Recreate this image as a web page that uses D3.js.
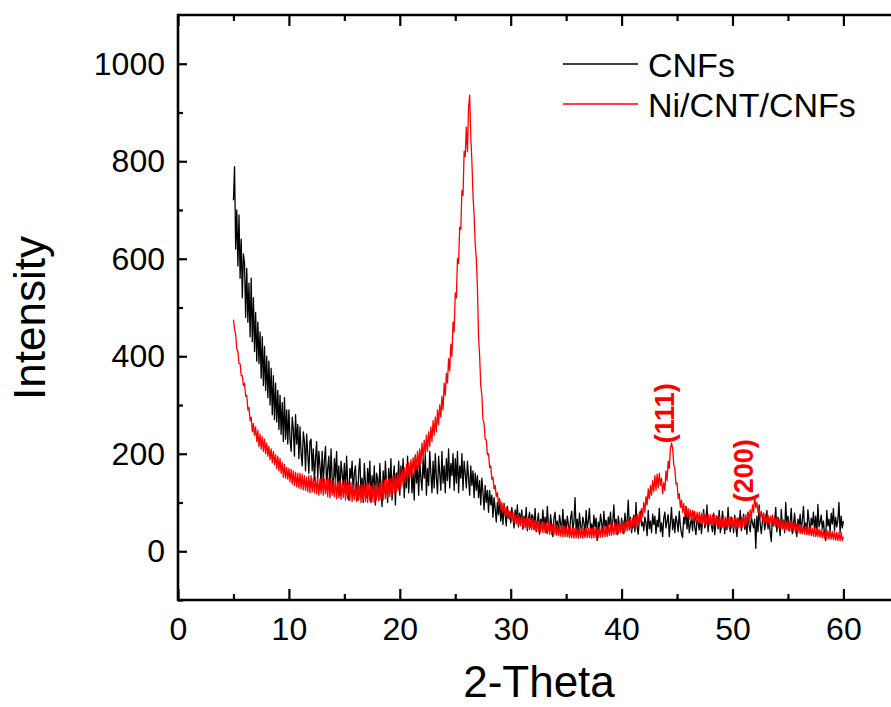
<!DOCTYPE html>
<html><head><meta charset="utf-8">
<script src="https://cdn.jsdelivr.net/npm/d3@7/dist/d3.min.js"></script>
<style>
body{margin:0;background:#fff}
svg{display:block}
text{font-family:"Liberation Sans",Arial,sans-serif}
</style>
</head><body>
<svg id="chart" width="891" height="707"></svg>
<script>
// 2-Theta sampling of the scan (degrees)
const thetaStart = 5, thetaStep = 0.1;

// CNFs intensity, 5.0 .. 60.0 deg in 0.1 deg steps
const cnfs = [
720,789,620,700,585,690,560,640,520,610,
590,480,580,470,550,440,560,430,520,410,
490,390,470,385,450,355,440,340,420,330,
400,315,390,300,375,280,360,270,345,265,
330,250,320,240,305,225,315,230,290,220,
290,230,205,275,250,195,280,220,260,190,
255,200,175,245,225,165,240,200,160,225,
230,165,210,145,190,225,150,205,175,140,
205,140,185,215,130,170,195,125,210,150,
120,190,150,205,130,175,115,185,160,135,
180,120,195,140,105,170,150,185,115,160,
175,130,105,165,190,120,150,100,180,140,
110,170,135,185,100,155,125,175,95,160,
150,105,180,130,92,165,120,185,140,100,
170,120,190,105,150,175,95,160,130,185,
115,175,145,190,110,160,130,195,120,170,
180,120,160,105,195,140,175,115,185,150,
125,190,150,200,115,170,135,205,160,120,
185,130,200,150,118,195,160,125,205,140,
175,120,190,145,210,130,180,155,200,125,
190,140,205,120,175,150,200,125,185,160,
130,185,150,115,175,135,165,110,160,125,
155,110,145,95,150,120,85,135,100,125,
80,125,95,115,70,110,88,60,100,75,
105,62,88,55,98,75,52,92,68,80,
58,90,70,48,85,62,95,50,78,60,
85,45,72,58,90,42,68,80,50,75,
72,45,88,40,60,78,35,66,52,85,
48,70,38,92,55,42,75,50,30,68,
80,45,62,35,74,58,40,86,48,65,
38,72,55,30,68,82,44,60,110,42,
66,35,78,52,40,70,58,32,84,48,
62,88,42,56,36,74,50,68,22,60,
45,76,58,38,82,50,64,35,70,55,
80,42,60,95,48,66,34,72,52,40,
68,50,36,78,55,62,105,44,70,38,
56,74,40,100,48,35,66,82,52,60,
42,70,58,32,84,46,62,38,76,55,
72,36,64,50,88,40,58,30,68,80,
48,62,75,30,58,90,44,66,38,72,
60,40,82,52,36,28,70,56,92,46,
75,38,55,68,42,80,50,34,64,58,
44,70,36,62,86,48,58,95,40,66,
68,52,40,78,34,60,72,46,84,38,
50,82,58,36,66,44,90,55,40,70,
62,38,74,50,30,68,56,84,42,60,
76,45,60,35,80,52,40,70,58,48,
66,6,72,40,95,55,36,62,78,44,
58,84,46,66,38,20,74,52,62,90,
40,70,55,32,86,48,64,38,100,56,
72,42,60,88,36,54,78,46,30,66,
50,76,40,64,92,44,58,36,85,62,
38,68,54,80,42,72,34,96,50,60,
74,46,62,36,22,84,52,66,40,78,
56,88,42,70,50,64,100,38,72,48,
62
];

// Ni/CNT/CNFs intensity, same sampling
const niCntCnfs = [
475,455,445,415,410,385,385,360,360,340,
345,318,320,290,295,268,275,245,262,238,
255,225,248,215,240,210,235,205,230,200,
222,195,215,188,210,182,205,178,198,170,
195,165,190,160,182,152,178,150,172,148,
170,142,168,138,165,135,162,132,160,130,
160,128,158,126,155,125,152,122,155,120,
155,122,150,120,152,118,150,115,148,118,
150,115,148,118,145,112,150,110,145,115,
145,112,148,108,142,110,145,106,140,110,
142,105,140,108,138,104,142,102,136,106,
138,102,140,105,135,100,138,104,136,102,
136,100,138,104,135,102,140,100,136,105,
138,104,140,106,142,105,145,108,148,110,
148,112,150,115,155,118,158,122,162,125,
165,130,168,135,172,140,178,145,182,150,
188,155,192,162,198,168,205,172,210,180,
222,190,228,198,238,205,245,215,255,225,
268,238,275,245,290,260,300,275,318,290,
345,320,365,345,395,370,425,400,470,450,
530,520,600,590,665,660,740,730,820,810,
870,820,910,936,850,800,730,690,630,600,
540,440,400,340,320,270,262,230,228,198,
200,172,175,148,152,128,135,112,120,98,
108,88,100,80,94,74,90,70,85,66,
82,62,80,58,76,56,75,54,72,52,
72,50,70,48,68,46,68,45,66,44,
66,44,64,42,62,40,62,40,60,38,
60,38,58,36,58,35,56,34,55,34,
55,33,54,32,52,31,52,30,52,30,
50,30,50,28,50,28,48,27,48,28,
48,27,48,28,48,27,47,28,48,28,
48,28,47,27,48,28,48,28,49,28,
49,29,50,29,52,30,52,30,54,32,
54,33,56,34,58,35,58,36,60,38,
60,38,62,40,62,42,65,44,66,45,
68,48,72,52,76,56,80,62,88,70,
100,80,112,95,128,108,135,115,145,122,
155,125,158,130,160,135,150,118,140,125,
165,145,185,170,210,222,212,178,170,138,
140,108,118,90,105,80,98,74,92,70,
88,66,85,64,84,62,82,60,80,60,
80,58,78,56,78,55,76,55,76,54,
75,54,74,52,74,52,72,51,72,50,
72,50,72,50,70,49,70,48,70,48,
68,48,68,47,68,48,67,48,70,50,
72,52,75,55,80,60,85,68,95,80,
112,90,100,80,88,70,82,64,78,60,
76,56,74,55,72,54,72,52,70,50,
68,48,66,47,65,46,64,45,62,44,
62,42,60,41,58,40,58,38,56,38,
56,36,54,36,52,35,52,34,50,33,
50,32,48,31,48,30,46,30,46,29,
45,28,44,27,44,26,42,25,42,25,
40,24,40,23,39,22,38,22,38,22,
30
];

const seriesNames = ["CNFs", "Ni/CNT/CNFs"];
const seriesColors = ["#000000", "#ff0000"];
const xTicks = [0, 10, 20, 30, 40, 50, 60];
const xMinorTicks = [5, 15, 25, 35, 45, 55];
const yTicks = [0, 200, 400, 600, 800, 1000];
const yMinorTicks = [-100, 100, 300, 500, 700, 900];
const peakLabels = ["(111)", "(200)"];
const peakLabelTheta = [43.95, 51.0];
const peakLabelIntensity = [283, 165];

(function () {
const svg = d3.select("#chart");
const W = 891, H = 707;
const pL = 178, pT = 15, pB = 600;
const x = d3.scaleLinear().domain([0, 65]).range([pL, pL + 65 * 11.09]);
const y = d3.scaleLinear().domain([-100, 1100]).range([pB, pT]);
const pR = x(65);

svg.append("rect").attr("width", W).attr("height", H).attr("fill", "#fff");

svg.append("defs").append("clipPath").attr("id", "plot")
  .append("rect").attr("x", pL).attr("y", pT).attr("width", pR - pL).attr("height", pB - pT);

const toPoints = arr => arr.map((v, i) => [thetaStart + i * thetaStep, v]);
const line = d3.line().x(d => x(d[0])).y(d => y(d[1]));

const dataG = svg.append("g").attr("clip-path", "url(#plot)");
[cnfs, niCntCnfs].forEach((s, k) => {
  dataG.append("path").datum(toPoints(s))
    .attr("fill", "none").attr("stroke", seriesColors[k])
    .attr("stroke-width", 1.3).attr("stroke-linejoin", "round")
    .attr("d", line);
});

const fmt = d3.format("d");
svg.append("g").attr("transform", `translate(0,${pB})`)
  .call(d3.axisBottom(x).tickValues(xTicks).tickSize(-11).tickPadding(17).tickFormat(fmt));
svg.append("g").attr("transform", `translate(0,${pB})`)
  .call(d3.axisBottom(x).tickValues(xMinorTicks).tickSize(-6).tickFormat(""));
svg.append("g").attr("transform", `translate(0,${pT})`)
  .call(d3.axisTop(x).tickValues(xTicks).tickSize(-11).tickFormat(""));
svg.append("g").attr("transform", `translate(0,${pT})`)
  .call(d3.axisTop(x).tickValues(xMinorTicks).tickSize(-6).tickFormat(""));
svg.append("g").attr("transform", `translate(${pL},0)`)
  .call(d3.axisLeft(y).tickValues(yTicks).tickSize(-9).tickPadding(13).tickFormat(fmt));
svg.append("g").attr("transform", `translate(${pL},0)`)
  .call(d3.axisLeft(y).tickValues(yMinorTicks).tickSize(-5).tickFormat(""));

svg.selectAll(".domain").remove();
svg.selectAll(".tick line").attr("stroke", "#000").attr("stroke-width", 2.2);
svg.selectAll(".tick text").attr("font-size", 32).attr("fill", "#000")
  .attr("font-family", '"Liberation Sans",Arial,sans-serif');

const frame = svg.append("g").attr("stroke", "#000").attr("stroke-width", 2.6).attr("fill", "none");
frame.append("line").attr("x1", pL).attr("x2", pL).attr("y1", pT - 1.3).attr("y2", pB + 1.3);
frame.append("line").attr("x1", pL).attr("x2", pR).attr("y1", pT).attr("y2", pT);
frame.append("line").attr("x1", pL).attr("x2", pR).attr("y1", pB).attr("y2", pB);
frame.append("line").attr("x1", pR).attr("x2", pR).attr("y1", pT).attr("y2", pB);

svg.append("text").attr("x", 539).attr("y", 697).attr("text-anchor", "middle")
  .attr("font-size", 44).text("2-Theta");
svg.append("text").attr("transform", "translate(45,318) rotate(-90)")
  .attr("text-anchor", "middle").attr("font-size", 44).text("Intensity");

const lg = svg.append("g");
seriesNames.forEach((n, k) => {
  const ly = 64 + k * 40;
  lg.append("line").attr("x1", 563).attr("x2", 638).attr("y1", ly).attr("y2", ly)
    .attr("stroke", seriesColors[k]).attr("stroke-width", 1.5);
  lg.append("text").attr("x", 648).attr("y", ly + 13).attr("font-size", 34).text(n);
});

peakLabels.forEach((t, k) => {
  svg.append("text")
    .attr("transform", `translate(${x(peakLabelTheta[k])},${y(peakLabelIntensity[k])}) rotate(-90)`)
    .attr("text-anchor", "middle").attr("dominant-baseline", "central")
    .attr("font-size", 27).attr("font-weight", "bold").attr("fill", "#ff0000").text(t);
});
})();
</script>
</body></html>
